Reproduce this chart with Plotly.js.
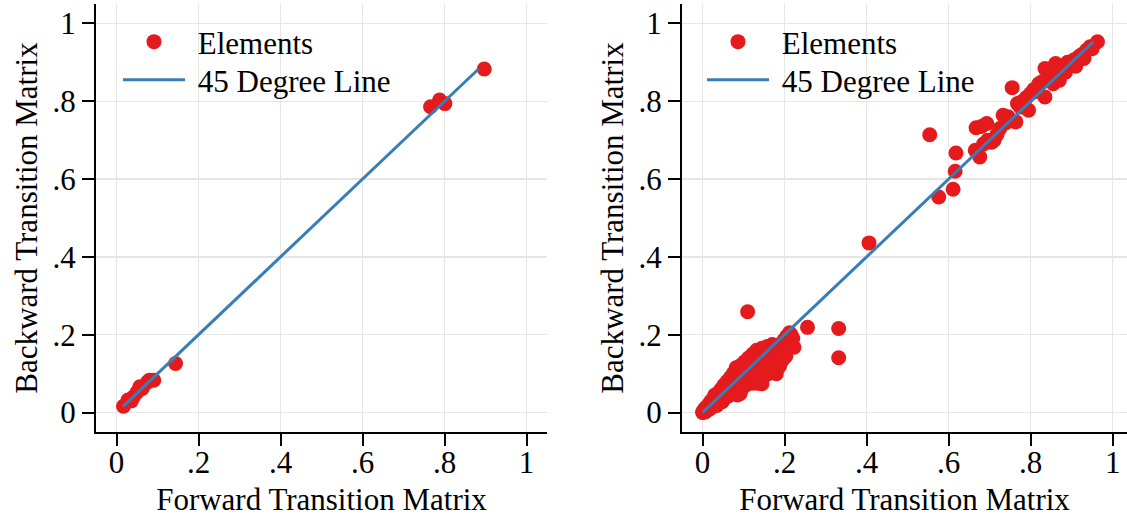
<!DOCTYPE html>
<html>
<head>
<meta charset="utf-8">
<script src="https://cdn.plot.ly/plotly-3.0.1.min.js"></script>
<style>
  html, body { margin: 0; padding: 0; background: #ffffff; overflow: hidden; }
  #chart { width: 1127px; height: 517px; }
</style>
</head>
<body>
<div id="chart"></div>
<script>
// Panel 1: small transition matrix, forward vs backward estimates
const fwdSmall = [0.017, 0.028, 0.041, 0.036, 0.057, 0.063, 0.050, 0.080, 0.091, 0.075, 0.144,
                  0.766, 0.788, 0.801, 0.897];
const bwdSmall = [0.016, 0.032, 0.040, 0.030, 0.066, 0.062, 0.052, 0.083, 0.083, 0.078, 0.126,
                  0.786, 0.803, 0.794, 0.883];

// Panel 2: large transition matrix, forward vs backward estimates
const fwdLarge = [
  0.000, 0.002, 0.004, 0.006, 0.008, 0.010, 0.012, 0.015, 0.018, 0.020, 0.022, 0.025, 0.028,
  0.030, 0.032, 0.035, 0.038, 0.040, 0.043, 0.045, 0.048, 0.050, 0.052, 0.055, 0.058, 0.060,
  0.062, 0.065, 0.068, 0.070, 0.072, 0.075, 0.078, 0.080, 0.082, 0.085, 0.087, 0.090, 0.092,
  0.095, 0.098, 0.100, 0.102, 0.105, 0.108, 0.110, 0.112, 0.115, 0.118, 0.120, 0.122, 0.125,
  0.128, 0.130, 0.132, 0.135, 0.138, 0.140, 0.142, 0.145, 0.148, 0.150, 0.152, 0.155, 0.158,
  0.160, 0.162, 0.165, 0.168, 0.170, 0.172, 0.175, 0.178, 0.180, 0.182, 0.185, 0.188, 0.190,
  0.192, 0.195, 0.198, 0.200, 0.203, 0.205, 0.208, 0.212, 0.216, 0.220, 0.223, 0.092, 0.120,
  0.145,
  0.110, 0.256, 0.332, 0.332, 0.406,
  0.554, 0.576, 0.611, 0.616, 0.618,
  0.667, 0.680, 0.693, 0.665, 0.676, 0.685, 0.695, 0.705, 0.711, 0.718, 0.725, 0.733, 0.740,
  0.745, 0.755, 0.764, 0.768, 0.775, 0.780, 0.790, 0.795, 0.800, 0.808, 0.815, 0.820, 0.828,
  0.835, 0.835, 0.842, 0.850, 0.855, 0.861, 0.865, 0.870, 0.878, 0.885, 0.890, 0.898, 0.905,
  0.910, 0.918, 0.925, 0.930, 0.936, 0.945, 0.950, 0.963
];
const bwdLarge = [
  0.000, 0.004, 0.001, 0.010, 0.003, 0.015, 0.006, 0.020, 0.010, 0.028, 0.014, 0.035, 0.020,
  0.045, 0.026, 0.018, 0.050, 0.032, 0.040, 0.060, 0.028, 0.045, 0.070, 0.038, 0.055, 0.080,
  0.042, 0.065, 0.090, 0.050, 0.075, 0.100, 0.060, 0.085, 0.115, 0.045, 0.070, 0.095, 0.120,
  0.060, 0.080, 0.105, 0.130, 0.070, 0.090, 0.115, 0.140, 0.080, 0.100, 0.125, 0.150, 0.090,
  0.110, 0.135, 0.160, 0.075, 0.100, 0.120, 0.145, 0.165, 0.090, 0.110, 0.130, 0.155, 0.170,
  0.100, 0.120, 0.140, 0.160, 0.175, 0.110, 0.130, 0.150, 0.100, 0.165, 0.140, 0.120, 0.175,
  0.155, 0.135, 0.185, 0.165, 0.145, 0.195, 0.175, 0.205, 0.200, 0.190, 0.168, 0.049, 0.075,
  0.074,
  0.259, 0.219, 0.216, 0.141, 0.436,
  0.714, 0.554, 0.574, 0.620, 0.667,
  0.732, 0.735, 0.743, 0.674, 0.657, 0.690, 0.700, 0.695, 0.700, 0.715, 0.730, 0.764, 0.745,
  0.760, 0.835, 0.747, 0.794, 0.785, 0.800, 0.810, 0.777, 0.820, 0.830, 0.825, 0.845, 0.850,
  0.884, 0.811, 0.860, 0.870, 0.845, 0.897, 0.880, 0.854, 0.890, 0.875, 0.900, 0.895, 0.906,
  0.890, 0.915, 0.920, 0.910, 0.931, 0.940, 0.935, 0.953
];

const tickVals = [0, 0.2, 0.4, 0.6, 0.8, 1];
const tickText = ['0', '.2', '.4', '.6', '.8', '1'];

const RED = '#E41A1C';
const BLUE = '#377EB8';
const FONT = '"Liberation Serif", "Times New Roman", serif';
const FS = 31;

// Legend labels carry a leading no-break space to widen the gap after the symbol
const NAME_PTS = '\u00a0Elements';
const NAME_LINE = '\u00a045 Degree Line';

// 45 degree reference line spans the range of the backward estimates
function diagLine(vals) {
  const lo = Math.min(...vals), hi = Math.max(...vals);
  return [lo, hi];
}

const lineSmall = diagLine(bwdSmall);
const lineLarge = diagLine(bwdLarge);

const traces = [
  { x: fwdSmall, y: bwdSmall, type: 'scatter', mode: 'markers', name: NAME_PTS,
    marker: { color: RED, size: 15 }, xaxis: 'x', yaxis: 'y', legend: 'legend' },
  { x: lineSmall, y: lineSmall, type: 'scatter', mode: 'lines', name: NAME_LINE,
    line: { color: BLUE, width: 3 }, xaxis: 'x', yaxis: 'y', legend: 'legend3' },
  { x: fwdLarge, y: bwdLarge, type: 'scatter', mode: 'markers', name: NAME_PTS,
    marker: { color: RED, size: 15 }, xaxis: 'x2', yaxis: 'y2', legend: 'legend2' },
  { x: lineLarge, y: lineLarge, type: 'scatter', mode: 'lines', name: NAME_LINE,
    line: { color: BLUE, width: 3 }, xaxis: 'x2', yaxis: 'y2', legend: 'legend4' }
];

function axisBase(extra) {
  return Object.assign({
    tickvals: tickVals, ticktext: tickText,
    showgrid: true, gridcolor: '#e6e6e6', gridwidth: 1.5,
    zeroline: false,
    showline: true, linecolor: '#000000', linewidth: 2,
    ticks: 'outside', ticklen: 12, tickwidth: 2, tickcolor: '#000000',
    tickfont: { family: FONT, size: FS, color: '#000000' },
    fixedrange: true
  }, extra);
}

const W = 1127, H = 517;
const legendBase = {
  bgcolor: 'rgba(0,0,0,0)', borderwidth: 0,
  font: { family: FONT, size: FS, color: '#000000' },
  itemwidth: 62, tracegroupgap: 0,
  xanchor: 'left', yanchor: 'top'
};
const legendAt = (px, py) => Object.assign({}, legendBase, { x: px / W, y: 1 - py / H });

const layout = {
  width: W, height: H,
  margin: { l: 0, r: 0, t: 0, b: 0 },
  paper_bgcolor: '#ffffff', plot_bgcolor: '#ffffff',
  font: { family: FONT, color: '#000000' },
  xaxis: axisBase({ domain: [96 / W, 547 / W], range: [-0.05, 1.05], anchor: 'y',
    ticklabelstandoff: -10,
    title: { text: 'Forward Transition Matrix', font: { family: FONT, size: FS }, standoff: 14 } }),
  yaxis: axisBase({ domain: [1 - 432 / H, 1 - 4 / H], range: [-0.05, 1.05], anchor: 'x',
    title: { text: 'Backward Transition Matrix', font: { family: FONT, size: FS }, standoff: 6 } }),
  xaxis2: axisBase({ domain: [682 / W, 1], range: [-0.05, 1.035], anchor: 'y2',
    ticklabelstandoff: -10,
    title: { text: 'Forward Transition Matrix', font: { family: FONT, size: FS }, standoff: 14 } }),
  yaxis2: axisBase({ domain: [1 - 432 / H, 1 - 4 / H], range: [-0.05, 1.05], anchor: 'x2',
    title: { text: 'Backward Transition Matrix', font: { family: FONT, size: FS }, standoff: 6 } }),
  legend: legendAt(118, 15),
  legend3: legendAt(118, 53),
  legend2: legendAt(702, 15),
  legend4: legendAt(702, 53),
  showlegend: true
};

Plotly.newPlot('chart', traces, layout, { displayModeBar: false, staticPlot: true });
</script>
</body>
</html>
